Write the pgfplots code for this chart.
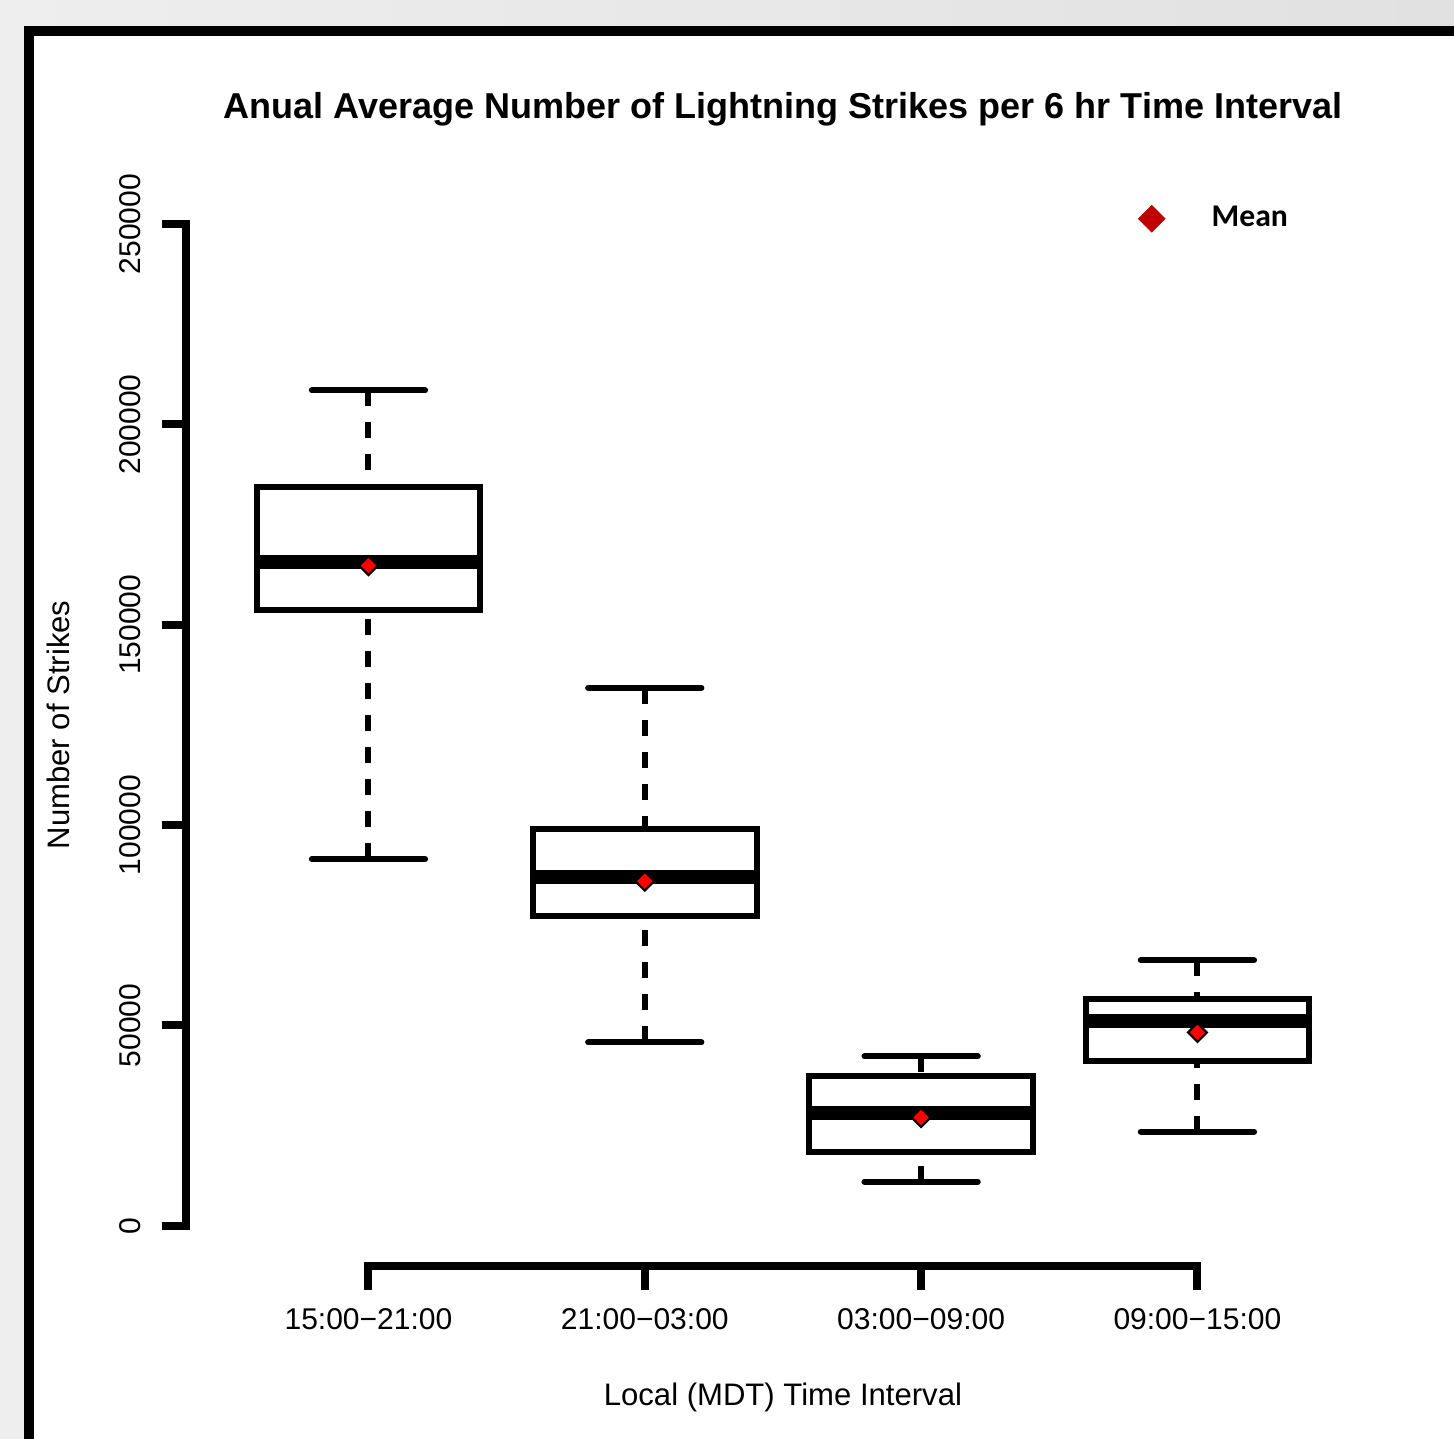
\documentclass[border=0pt]{standalone}
\usepackage{pgfplots}
\pgfplotsset{compat=1.18}
\usepackage{fontspec}
\setmainfont{Liberation Sans}
\newfontfamily\carlito{Carlito}
\definecolor{bggray}{HTML}{EEEEEE}
\definecolor{bggrayR}{HTML}{E1E1E1}
\definecolor{meanred}{HTML}{FF0000}
\definecolor{legred}{HTML}{C00000}
\newcommand{\lab}{\fontsize{8.54}{10}\selectfont}
\newcommand{\axlab}{\fontsize{8.84}{10}\selectfont}
\newcommand{\ttl}{\fontsize{10.24}{12}\selectfont\bfseries}
\pgfplotsset{
  boxst/.style={forget plot, line width=0.06cm, black, line join=miter},
  medst/.style={forget plot, line width=0.14cm, black},
  whst/.style={forget plot, line width=0.06cm, black, dash pattern=on 0.16cm off 0.16cm},
  capst/.style={forget plot, line width=0.06cm, black, line cap=round},
}
\begin{document}
\begin{tikzpicture}
\begin{scope}[x=0.01cm,y=-0.01cm]
\path[use as bounding box] (0,0) rectangle (1454,1439);
\shade[left color=bggray, right color=bggrayR] (0,0) rectangle (1454,1439);
\fill[white] (29,31) rectangle (1454,1439);
\draw[line width=0.1cm, line join=miter] (29,1445) -- (29,30.5) -- (1460,30.5);
\end{scope}
\begin{axis}[
  at={(1.86cm,-12.65cm)}, anchor=south west,
  scale only axis, width=11.93cm, height=10.81cm,
  xmin=0.34, xmax=4.66, ymin=-10000, ymax=260000,
  clip=false,
  scaled y ticks=false,
  axis line style={draw=none},
  axis x line*=bottom, axis y line*=left,
  tick align=outside,
  major tick length=0.2cm,
  tick style={line width=0.08cm, black, line cap=rect},
  xtick={1,2,3,4},
  xticklabels={15:00−21:00,21:00−03:00,03:00−09:00,09:00−15:00},
  ytick={0,50000,100000,150000,200000,250000},
  yticklabels={0,50000,100000,150000,200000,250000},
  ticklabel style={font=\lab},
  xticklabel style={anchor=base, yshift=-0.44cm},
  yticklabel style={rotate=90, anchor=south, yshift=0.13cm},
  xlabel={Local (MDT) Time Interval},
  ylabel={Number of Strikes},
  every axis x label/.style={at={(axis description cs:0.5,0)}, anchor=base, yshift=-1.40cm, font=\axlab},
  every axis y label/.style={at={(axis description cs:0,0.5)}, rotate=90, anchor=base, yshift=1.17cm, font=\axlab},
  title={Anual Average Number of Lightning Strikes per 6 hr Time Interval},
  every axis title/.style={at={(axis description cs:0.5,1)}, anchor=base, yshift=0.66cm, font=\ttl},
  legend style={at={(axis description cs:0.7887,0.968)}, anchor=west, draw=none, fill=none, column sep=0.4cm, font=\carlito\bfseries\fontsize{9}{11}\selectfont},
]
% --- 15:00-21:00 : whiskers 91500 / 208500, box 153750-184500, median 165750
\addplot[whst] coordinates {(1,91500) (1,153750)};
\addplot[whst] coordinates {(1,208500) (1,184500)};
\addplot[capst] coordinates {(0.795,91500) (1.205,91500)};
\addplot[capst] coordinates {(0.795,208500) (1.205,208500)};
\addplot[boxst] coordinates {(0.595,153750) (1.405,153750) (1.405,184500) (0.595,184500)} -- cycle;
\addplot[medst] coordinates {(0.595,165750) (1.405,165750)};
% --- 21:00-03:00 : whiskers 45750 / 134250, box 77250-99000, median 87000
\addplot[whst] coordinates {(2,45750) (2,77250)};
\addplot[whst] coordinates {(2,134250) (2,99000)};
\addplot[capst] coordinates {(1.795,45750) (2.205,45750)};
\addplot[capst] coordinates {(1.795,134250) (2.205,134250)};
\addplot[boxst] coordinates {(1.595,77250) (2.405,77250) (2.405,99000) (1.595,99000)} -- cycle;
\addplot[medst] coordinates {(1.595,87000) (2.405,87000)};
% --- 03:00-09:00 : whiskers 11000 / 42250, box 18500-37250, median 28250
\addplot[whst] coordinates {(3,11000) (3,18500)};
\addplot[whst] coordinates {(3,42250) (3,37250)};
\addplot[capst] coordinates {(2.795,11000) (3.205,11000)};
\addplot[capst] coordinates {(2.795,42250) (3.205,42250)};
\addplot[boxst] coordinates {(2.595,18500) (3.405,18500) (3.405,37250) (2.595,37250)} -- cycle;
\addplot[medst] coordinates {(2.595,28250) (3.405,28250)};
% --- 09:00-15:00 : whiskers 23500 / 66250, box 41000-56500, median 51000
\addplot[whst] coordinates {(4,23500) (4,41000)};
\addplot[whst] coordinates {(4,66250) (4,56500)};
\addplot[capst] coordinates {(3.795,23500) (4.205,23500)};
\addplot[capst] coordinates {(3.795,66250) (4.205,66250)};
\addplot[boxst] coordinates {(3.595,41000) (4.405,41000) (4.405,56500) (3.595,56500)} -- cycle;
\addplot[medst] coordinates {(3.595,51000) (4.405,51000)};
% --- means
\addplot[forget plot, only marks, mark=square*, mark size=1.9pt, mark options={rotate=45, fill=meanred, draw=black, line width=0.6pt}] coordinates {(1,164750) (2,86000) (3,27000) (4,48250)};
% --- axis lines (R style, detached)
\addplot[forget plot, line width=0.08cm, black, line cap=rect] coordinates {(0.34,0) (0.34,250000)};
\addplot[forget plot, line width=0.08cm, black, line cap=rect] coordinates {(1,-10000) (4,-10000)};
\addlegendimage{only marks, mark=square*, mark size=2.6pt, mark options={rotate=45, fill=legred, draw=legred}}
\addlegendentry{Mean}
\end{axis}
\end{tikzpicture}
\end{document}
